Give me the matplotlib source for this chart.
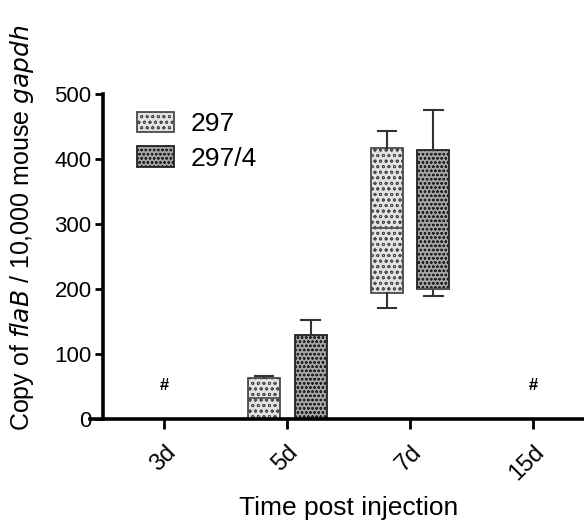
import matplotlib
matplotlib.use("Agg")
import matplotlib.pyplot as plt
import matplotlib.transforms as mtransforms
from matplotlib.patches import Patch

plt.rcParams['font.family'] = ['Liberation Sans', 'DejaVu Sans']
plt.rcParams['hatch.linewidth'] = 0.6

# data
days = ["3d", "5d", "7d", "15d"]
series = ["297", "297/4"]
# five-number summaries per day: (min, q1, median, q3, max); None = not detected
box_297 = [None, (0, 0, 32, 64, 66), (171, 194, 294, 417, 443), None]
box_2974 = [None, (0, 0, 0, 129, 152), (189, 200, 200, 414, 475), None]
nd_days = ["3d", "15d"]
nd_value = 52

faces = ["#e2e2e2", "#a5a5a5"]
hatches = ["ooo", "oooo"]
edges = ["#4a4a4a", "#222222"]
offsets = [-0.19, 0.19]

fig = plt.figure(figsize=(5.84, 5.22), dpi=100)
ax = fig.add_axes([0.176, 0.197, 0.842, 0.623])

for data, fc, hc, ec, off in zip([box_297, box_2974], faces, hatches, edges, offsets):
    stats, pos = [], []
    for i, d in enumerate(data):
        if d is None:
            continue
        lo, q1, med, q3, hi = d
        stats.append(dict(whislo=lo, q1=q1, med=med, q3=q3, whishi=hi, fliers=[]))
        pos.append(i + off)
    ax.bxp(stats, positions=pos, widths=0.26, capwidths=0.15,
           patch_artist=True, manage_ticks=False,
           boxprops=dict(facecolor=fc, edgecolor=ec, linewidth=1.3, hatch=hc),
           whiskerprops=dict(color="#333333", linewidth=1.5),
           capprops=dict(color="#333333", linewidth=1.5),
           medianprops=dict(color="#555555", linewidth=1.3))

for d in nd_days:
    ax.text(days.index(d), nd_value, "#", ha="center", va="center",
            fontsize=12, fontweight="bold")

for side in ["top", "right"]:
    ax.spines[side].set_visible(False)
for side in ["left", "bottom"]:
    ax.spines[side].set_linewidth(2.6)
ax.spines["bottom"].set_bounds(-0.6, 3.5)

ax.set_xlim(-0.5, 3.5)
ax.set_ylim(0, 500)
ax.set_xticks(range(len(days)))
ax.set_xticklabels(days, rotation=45, ha="right", rotation_mode="anchor", fontsize=17)
shift = mtransforms.ScaledTranslation(-5 / 72, 0, fig.dpi_scale_trans)
for lbl in ax.get_xticklabels():
    lbl.set_transform(lbl.get_transform() + shift)
ax.set_yticks([0, 100, 200, 300, 400, 500])
ax.tick_params(axis="y", labelsize=16, width=2, length=6, pad=2)
ax.tick_params(axis="x", width=2, length=7, pad=9)

ax.set_xlabel("Time post injection", fontsize=19, labelpad=8)
ax.set_ylabel(r"Copy of $\it{flaB}$ / 10,000 mouse $\it{gapdh}$", fontsize=18)
ax.yaxis.set_label_coords(-0.136, 0.59)

handles = [Patch(facecolor=fc, edgecolor=ec, hatch=hc, linewidth=1.3)
           for fc, hc, ec in zip(faces, hatches, edges)]
ax.legend(handles, series, loc="upper left", bbox_to_anchor=(0.049, 0.978),
          borderaxespad=0, frameon=False, fontsize=19, handlelength=1.4,
          handleheight=0.8, handletextpad=0.6, labelspacing=0.4)

fig.savefig("out.png", dpi=100)
